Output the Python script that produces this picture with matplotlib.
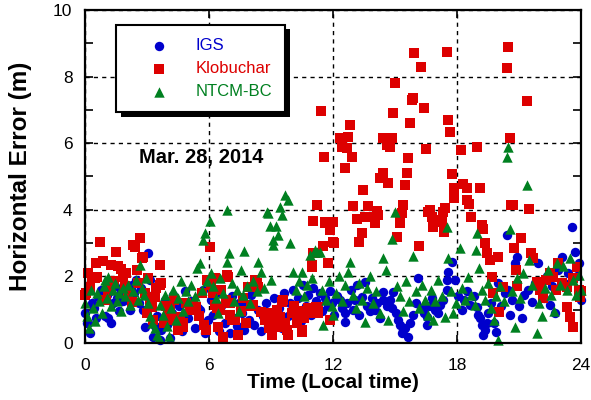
import matplotlib
matplotlib.use("Agg")
import matplotlib.pyplot as plt
from matplotlib.patches import Rectangle
import numpy as np

plt.rcParams['font.family'] = ['Liberation Sans', 'DejaVu Sans']

# ---------------- data ----------------
igs_t = [0.00,0.10,0.15,0.25,0.35,0.45,0.55,0.63,0.75,0.85,0.95,1.05,1.11,1.20,1.27,1.35,1.45,1.55,1.65,1.75,
         1.85,1.95,2.05,2.16,2.25,2.35,2.48,2.60,2.70,2.80,2.88,3.00,3.05,3.15,3.29,3.40,3.50,3.61,3.70,3.85,
         3.95,4.10,4.20,4.26,4.40,4.55,4.70,4.85,5.00,5.15,5.30,5.45,5.55,5.70,5.80,5.95,6.10,6.20,6.35,6.50,
         6.60,6.75,6.85,7.00,7.10,7.20,7.35,7.45,7.60,7.70,7.85,7.95,8.05,8.20,8.35,8.50,8.60,8.75,8.85,9.00,
         9.15,9.25,9.40,9.55,9.65,9.80,9.90,10.05,10.15,10.30,10.45,10.55,10.70,10.80,10.95,11.05,11.20,11.35,11.45,11.60,
         11.75,11.85,11.93,12.05,12.20,12.34,12.45,12.58,12.58,12.70,12.85,12.98,13.05,13.14,13.25,13.39,13.55,13.65,13.80,13.90,
         14.03,14.15,14.27,14.43,14.43,14.60,14.75,14.84,14.92,15.05,15.15,15.24,15.32,15.40,15.50,15.64,15.73,15.85,16.00,16.13,
         16.25,16.40,16.53,16.53,16.65,16.80,16.95,17.09,17.20,17.33,17.50,17.50,17.58,17.74,17.90,18.05,18.22,18.35,18.50,18.63,
         18.80,18.95,19.03,19.11,19.20,19.27,19.35,19.43,19.51,19.65,19.80,19.91,20.00,20.15,20.30,20.40,20.48,20.56,20.65,20.80,
         20.88,21.00,21.13,21.25,21.45,21.61,21.75,21.93,22.05,22.20,22.35,22.50,22.60,22.74,22.90,23.06,23.20,23.35,23.55,23.70,
         23.80,23.90,24.00]
igs_v = [0.90,0.60,0.59,0.30,1.20,1.05,0.75,1.39,1.60,1.30,0.80,1.45,0.74,1.55,0.59,1.20,1.70,1.35,0.95,1.55,
         1.25,1.65,1.40,0.99,1.75,1.50,1.89,1.20,1.65,1.00,0.49,1.45,2.69,1.90,0.19,0.50,0.80,0.09,0.40,1.29,
         0.55,0.15,0.90,1.44,0.65,1.10,0.35,1.55,0.75,1.25,0.45,1.05,0.99,1.60,0.30,0.69,1.30,0.85,1.50,0.35,
         1.10,0.60,1.30,0.30,1.40,0.75,0.50,1.20,0.90,0.40,1.15,0.70,1.45,0.55,1.00,0.35,0.80,1.20,0.50,0.90,
         1.35,0.60,1.05,0.45,1.50,0.80,1.20,1.60,0.95,1.35,0.65,1.75,1.10,1.45,0.85,1.65,1.25,1.50,0.95,1.35,
         1.10,1.55,1.19,0.85,1.40,1.29,1.05,0.89,0.64,1.20,1.60,0.99,1.30,1.74,0.85,1.39,1.84,1.10,0.95,1.35,
         0.99,1.20,0.74,1.29,1.54,1.10,1.30,1.04,1.54,0.90,0.70,0.54,0.30,0.39,0.45,0.19,0.59,0.85,1.20,1.94,
         1.05,0.90,0.79,0.54,1.10,1.35,1.00,0.89,1.15,1.29,1.59,1.89,2.14,2.44,1.89,1.40,0.99,1.30,1.55,1.14,
         1.40,1.09,0.84,0.74,0.55,0.24,0.39,0.59,0.89,1.20,0.60,0.34,1.79,1.10,1.50,3.24,1.59,0.84,1.30,2.39,
         2.59,1.10,0.74,1.45,1.59,1.24,1.80,2.39,1.55,1.35,2.00,1.14,1.70,0.89,2.20,2.59,1.80,2.10,3.49,2.74,
         2.00,2.40,1.29]

klob_t = [0.00,0.06,0.15,0.24,0.35,0.48,0.55,0.60,0.71,0.86,1.03,1.10,1.28,1.40,1.51,1.60,1.72,1.85,1.95,2.00,
          2.10,2.26,2.34,2.40,2.50,2.58,2.66,2.74,2.81,2.90,2.98,3.06,3.15,3.23,3.30,3.39,3.45,3.63,3.63,3.68,
          3.80,3.90,4.00,4.11,4.19,4.30,4.42,4.50,4.60,4.76,4.74,4.90,5.07,5.24,5.39,5.50,5.65,5.75,5.87,5.88,
          6.05,6.10,6.21,6.29,6.29,6.37,6.45,6.53,6.60,6.69,6.69,6.80,6.86,6.94,7.01,7.01,7.09,7.26,7.42,7.55,
          7.66,7.80,7.90,8.05,8.14,8.22,8.30,8.39,8.54,8.71,8.79,8.90,9.03,9.03,9.11,9.27,9.43,9.51,9.51,9.59,
          9.70,9.76,9.84,10.00,10.10,10.24,10.24,10.35,10.48,10.48,10.60,10.80,10.89,10.97,10.97,11.05,11.05,11.13,11.21,11.20,
          11.29,11.29,11.42,11.50,11.56,11.61,11.61,11.75,11.85,11.85,11.93,12.01,12.06,12.01,12.34,12.42,12.58,12.66,12.74,12.82,
          12.90,12.98,13.14,13.27,13.39,13.47,13.55,13.71,13.87,14.03,14.19,14.14,14.27,14.35,14.43,14.43,14.60,14.64,14.76,14.84,
          14.92,15.00,15.08,15.24,15.24,15.32,15.40,15.48,15.57,15.65,15.73,15.80,15.85,15.90,16.18,16.24,16.42,16.50,16.60,16.70,
          16.77,16.82,17.00,17.25,17.33,17.37,17.40,17.50,17.58,17.66,17.74,17.85,17.85,18.18,18.30,18.47,18.46,18.60,18.67,18.95,
          19.10,19.19,19.24,19.35,19.43,19.60,19.68,19.76,20.00,20.05,20.24,20.44,20.48,20.56,20.60,20.69,20.75,20.85,20.92,21.08,
          21.40,21.50,21.60,21.70,21.85,22.00,22.15,22.33,22.50,22.66,22.80,22.90,23.10,23.30,23.30,23.46,23.59,23.60,23.79,23.90,
          23.95,24.00]
klob_v = [1.44,1.50,2.10,1.69,1.95,1.94,2.39,1.99,3.04,2.45,1.29,1.60,2.34,1.85,2.74,2.30,2.21,1.99,1.70,2.10,
          1.45,1.24,2.94,2.89,2.20,1.80,3.14,2.54,2.59,1.50,0.89,1.94,1.30,1.09,0.69,1.39,1.65,2.34,1.74,1.80,
          0.60,1.10,0.85,0.99,0.69,1.30,0.69,0.40,0.79,0.59,0.49,1.20,0.99,1.14,1.09,0.80,1.50,0.55,0.39,1.89,
          2.89,1.75,1.49,1.94,1.14,1.04,0.49,0.99,1.60,0.19,0.14,1.30,2.04,1.99,1.19,0.84,0.69,0.69,0.24,0.95,
          1.34,0.60,1.69,1.10,1.14,1.89,1.79,1.69,0.94,0.69,0.89,0.45,0.79,0.24,0.49,0.99,0.79,1.24,0.49,1.29,
          0.60,0.39,0.24,0.89,1.10,0.69,0.59,0.95,0.39,0.34,0.75,1.04,0.89,2.34,2.29,2.69,3.66,2.69,4.14,1.09,
          0.89,1.09,6.97,2.90,5.60,3.59,3.64,2.40,3.39,0.69,3.64,3.64,3.01,3.04,6.15,5.90,5.25,5.85,6.20,6.55,
          5.60,4.11,3.71,3.04,3.29,4.60,3.77,4.10,3.79,3.59,3.84,3.97,4.95,4.95,5.10,6.15,5.95,4.80,5.90,6.15,
          6.90,7.80,3.19,3.74,3.59,3.89,4.14,4.75,5.10,5.55,6.60,7.30,7.37,8.70,2.90,8.30,7.07,5.82,3.94,4.00,
          3.79,3.49,3.69,3.64,3.94,3.34,4.05,8.75,6.70,6.35,5.07,4.65,4.35,5.80,4.78,4.65,4.30,4.17,3.79,5.90,
          4.65,3.54,3.41,2.99,2.69,2.49,1.99,1.49,2.59,0.94,1.69,8.25,8.90,6.15,4.15,4.14,2.84,2.19,1.71,3.14,
          7.27,4.01,2.69,2.55,1.84,1.59,1.35,1.89,2.10,1.99,1.60,2.39,1.80,1.69,1.09,0.79,0.49,1.94,2.29,1.60,
          1.39,1.55]

ntcm_t = [0.00,0.10,0.20,0.30,0.40,0.50,0.60,0.70,0.80,0.90,0.97,1.05,1.13,1.25,1.35,1.45,1.55,1.65,1.75,1.85,
          1.95,2.10,2.20,2.30,2.45,2.55,2.66,2.75,2.85,2.95,3.05,3.15,3.25,3.40,3.50,3.58,3.65,3.75,3.85,3.95,
          4.05,4.15,4.25,4.40,4.50,4.65,4.75,4.90,5.00,5.15,5.30,5.40,5.56,5.65,5.72,5.81,5.90,6.03,6.10,6.20,
          6.35,6.45,6.55,6.70,6.85,6.87,6.98,7.10,7.20,7.35,7.45,7.55,7.65,7.71,7.85,8.00,8.15,8.30,8.39,8.54,
          8.65,8.79,8.86,8.93,9.00,9.08,9.11,9.25,9.35,9.42,9.55,9.68,9.82,9.92,10.08,10.20,10.35,10.48,10.60,10.75,
          10.89,11.00,11.13,11.21,11.37,11.45,11.53,11.65,11.80,11.95,12.01,12.15,12.30,12.45,12.60,12.74,12.82,12.95,13.10,13.25,
          13.40,13.55,13.65,13.80,13.95,14.10,14.25,14.43,14.56,14.68,14.84,15.00,15.10,15.25,15.40,15.55,15.70,15.89,16.00,16.15,
          16.30,16.45,16.60,16.75,16.82,16.95,17.10,17.25,17.41,17.50,17.58,17.70,17.82,17.95,18.14,18.25,18.40,18.54,18.70,18.85,
          18.91,18.99,19.08,19.20,19.35,19.50,19.65,19.80,19.90,20.00,20.10,20.25,20.40,20.48,20.56,20.65,20.80,20.90,21.05,21.20,
          21.41,21.50,21.65,21.85,21.95,22.10,22.25,22.40,22.55,22.70,22.85,23.00,23.15,23.30,23.45,23.60,23.75,23.90,24.00]
ntcm_v = [1.20,0.80,0.45,1.60,1.05,0.65,1.50,1.25,0.90,1.70,1.89,1.35,1.99,1.10,1.60,1.79,1.25,1.50,0.95,1.65,
          1.40,1.75,1.15,1.55,1.90,1.30,2.34,1.65,1.45,1.95,1.20,0.80,0.60,0.45,0.25,0.15,1.15,0.85,1.45,0.50,
          0.20,1.05,1.60,0.70,1.35,1.85,0.95,1.55,1.25,1.75,1.40,2.24,2.39,1.60,3.09,3.29,1.85,3.67,2.10,1.70,
          1.35,0.90,1.95,1.50,2.44,3.99,2.69,1.80,1.25,1.60,0.95,2.19,1.45,2.77,1.70,1.20,1.85,1.55,2.44,2.14,
          1.65,3.94,3.89,3.51,1.90,3.09,2.94,3.51,3.24,4.09,3.84,4.44,4.29,2.99,2.14,1.60,1.85,2.14,1.40,1.75,
          2.64,1.95,2.79,2.74,2.74,1.60,0.54,1.30,1.85,1.10,0.84,1.50,2.00,1.25,1.75,2.14,2.44,1.45,1.05,1.80,
          1.30,0.64,1.65,2.00,1.20,1.55,0.90,2.54,2.19,0.69,3.11,3.94,1.70,1.40,0.95,1.85,1.25,2.61,1.55,1.05,
          1.75,1.30,0.85,1.60,0.69,1.25,1.90,1.40,0.79,3.49,2.54,1.55,0.89,1.20,2.84,1.65,1.30,1.99,1.45,1.15,
          2.79,3.29,2.24,1.60,1.30,1.80,1.05,0.70,1.40,0.09,1.70,1.25,5.60,5.90,3.41,1.55,0.49,1.95,1.35,2.10,
          4.74,2.49,1.75,0.29,1.20,0.80,1.65,2.20,1.45,0.95,2.40,1.75,2.30,1.60,2.55,1.90,1.45,2.05,1.60]

x_ticks = [0, 6, 12, 18, 24]
y_ticks = [0, 2, 4, 6, 8, 10]
series_names = ["IGS", "Klobuchar", "NTCM-BC"]
series_colors = ["#0000CC", "#DD0000", "#008020"]
title_text = "Mar. 28, 2014"

# ---------------- figure ----------------
fig = plt.figure(figsize=(5.91, 4.0), dpi=100)
ax = fig.add_axes([85/591, 57/400, 496/591, 333/400])

h1 = ax.scatter(igs_t, igs_v, s=46, marker='o', color=series_colors[0], linewidths=0, zorder=3,
                label=series_names[0], clip_on=False)
h2 = ax.scatter(klob_t, klob_v, s=52, marker='s', color=series_colors[1], linewidths=0, zorder=4,
                label=series_names[1], clip_on=False)
h3 = ax.scatter(ntcm_t, ntcm_v, s=56, marker='^', color=series_colors[2], linewidths=0, zorder=5,
                label=series_names[2], clip_on=False)

ax.set_xlim(0, 24)
ax.set_ylim(0, 10)
ax.set_xticks(x_ticks)
ax.set_yticks(y_ticks)
ax.set_yticks([1, 3, 5, 7, 9], minor=True)
ax.tick_params(axis='both', which='major', direction='in', length=6, width=1.2,
               top=True, right=True, labelsize=12.5)
ax.tick_params(axis='y', which='minor', direction='in', length=6, width=1.2, right=True, left=True)
ax.tick_params(axis='x', which='major', pad=11)
ax.tick_params(axis='y', which='major', pad=9)

ax.grid(True, which='major', color='black', linestyle=(0, (3, 3)), linewidth=1.0, zorder=1)
ax.set_axisbelow(True)
for sp in ax.spines.values():
    sp.set_linewidth(1.6)
    sp.set_zorder(6)

ax.set_xlabel("Time (Local time)", fontsize=15, fontweight='bold', labelpad=0)
ax.set_ylabel("Horizontal Error (m)", fontsize=17.5, fontweight='bold', labelpad=15)

ax.text(5.62, 5.40, title_text, fontsize=14.5, fontweight='bold', ha='center', va='baseline', zorder=7)

leg = ax.legend(handles=[h1, h2, h3], loc='upper left', bbox_to_anchor=(0.0625, 0.955),
                fontsize=12, frameon=True, fancybox=False, shadow=False,
                edgecolor='black', framealpha=1.0, handlelength=3.6, handletextpad=0.35,
                borderpad=0.8, labelspacing=0.47, borderaxespad=0.0, scatterpoints=1)
leg.get_frame().set_linewidth(1.5)
leg.set_zorder(10)
for txt, c in zip(leg.get_texts(), series_colors):
    txt.set_color(c)

# solid black drop shadow behind the legend box
fig.canvas.draw()
bb = leg.get_window_extent()
W, H = fig.bbox.width, fig.bbox.height
off = 4.5
shadow = Rectangle(((bb.x0 + off) / W, (bb.y0 - off) / H), bb.width / W, bb.height / H,
                   transform=fig.transFigure, facecolor='black', edgecolor='none', zorder=9)
ax.add_artist(shadow)
shadow.set_clip_on(False)

fig.savefig("out.png", dpi=100)
